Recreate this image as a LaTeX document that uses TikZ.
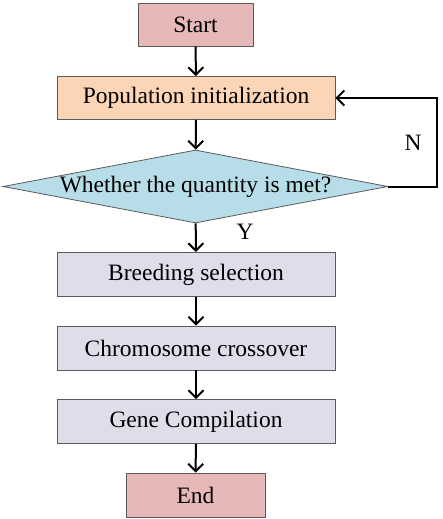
\documentclass[tikz,border=0pt]{standalone}
\usepackage{fontspec}
\setmainfont{Liberation Serif}
\usetikzlibrary{shapes.geometric,arrows.meta}
\definecolor{termfill}{HTML}{E6B9B8}
\definecolor{initfill}{HTML}{FBD5B5}
\definecolor{decfill}{HTML}{B7DEE8}
\definecolor{procfill}{HTML}{E0DCEA}
\definecolor{edgecol}{HTML}{5A5A5A}
\begin{document}
\begin{tikzpicture}[x=1pt,y=-1pt,
  box/.style={draw=edgecol,line width=0.8pt,inner sep=0pt,font=\fontsize{23.5}{26}\selectfont},
  term/.style={box,fill=termfill,minimum width=115pt,minimum height=43pt},
  proc/.style={box,fill=procfill,minimum width=278pt,minimum height=44pt},
  arr/.style={line width=2pt,-{Straight Barb[length=7.5pt,width=15pt,line width=2pt]}},
  lbl/.style={font=\fontsize{23.5}{26}\selectfont,inner sep=0pt}]
\useasboundingbox (0,0) rectangle (442,519);
\node[term] (start) at (195.5,24.5) {Start};
\node[box,fill=initfill,minimum width=278pt,minimum height=43pt] (init) at (196,98) {Population initialization};
\node[box,diamond,fill=decfill,shape aspect=5.3,minimum width=385pt,minimum height=73pt] (dec) at (195.5,186.5) {\makebox[0pt]{Whether the quantity is met?}};
\node[proc] (breed) at (196,274.5) {Breeding selection};
\node[proc] (cross) at (196,348) {Chromosome crossover};
\node[proc] (gene) at (196,421.5) {Gene Compilation};
\node[term,minimum width=139pt,minimum height=44pt] (end) at (195.5,495) {End};
\coordinate (c1) at (437,186.5);
\coordinate (c2) at (437,98);
\draw[arr] (start) -- (init);
\draw[arr] (init) -- (dec);
\draw[arr] (dec) -- (breed);
\draw[arr] (breed) -- (cross);
\draw[arr] (cross) -- (gene);
\draw[arr] (gene) -- (end);
\draw[arr] (dec.east) -- (c1) -- (c2) -- (init.east);
\node[lbl] (ylab) at (245,232) {Y};
\node[lbl] (nlab) at (413,143) {N};
\end{tikzpicture}
\end{document}
